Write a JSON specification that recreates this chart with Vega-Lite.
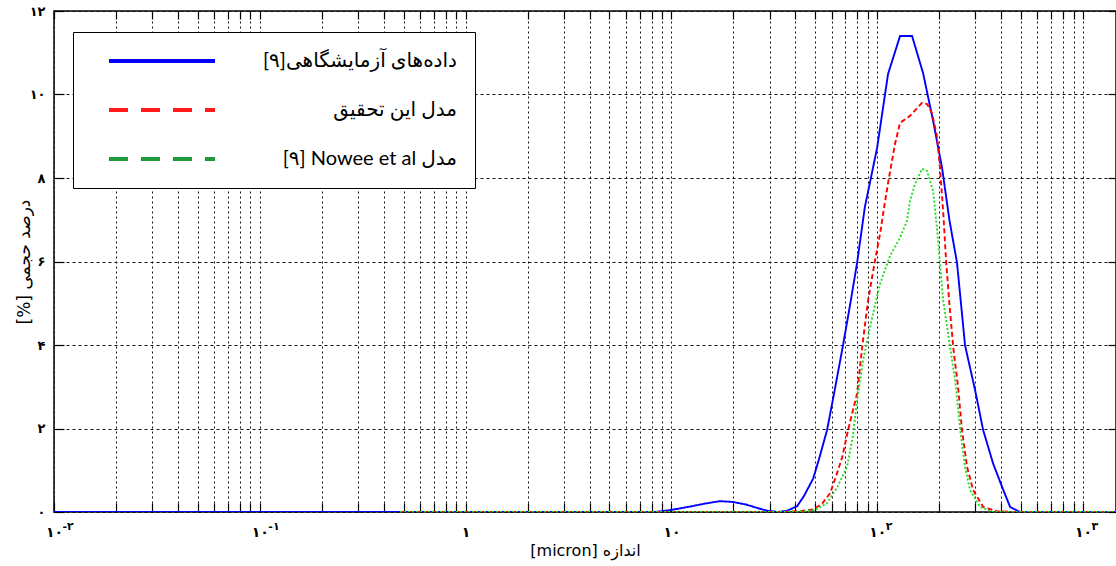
{
  "$schema": "https://vega.github.io/schema/vega-lite/v6.json",
  "width": 1062,
  "height": 501,
  "autosize": {"type": "none"},
  "padding": {"left": 54, "top": 11, "right": 0, "bottom": 54},
  "background": "white",
  "config": {"view": {"stroke": "black", "strokeWidth": 1.5}},
  "data": {"values": [
    {"s":"exp","x":0.01,"y":0},{"s":"exp","x":7,"y":0},{"s":"exp","x":8.3,"y":0},{"s":"exp","x":10,"y":0.05},{"s":"exp","x":12.3,"y":0.13},{"s":"exp","x":14.5,"y":0.2},{"s":"exp","x":17.2,"y":0.26},{"s":"exp","x":19.9,"y":0.24},{"s":"exp","x":23,"y":0.18},{"s":"exp","x":26,"y":0.1},{"s":"exp","x":29.2,"y":0.03},{"s":"exp","x":33,"y":0},{"s":"exp","x":36.5,"y":0.03},{"s":"exp","x":40.8,"y":0.14},{"s":"exp","x":44,"y":0.38},{"s":"exp","x":48.8,"y":0.8},{"s":"exp","x":52,"y":1.25},{"s":"exp","x":57,"y":1.96},{"s":"exp","x":62,"y":2.9},{"s":"exp","x":68.2,"y":4.0},{"s":"exp","x":74,"y":5.0},{"s":"exp","x":79.8,"y":5.97},{"s":"exp","x":87,"y":7.3},{"s":"exp","x":99.8,"y":8.72},{"s":"exp","x":112.8,"y":10.49},{"s":"exp","x":129,"y":11.4},{"s":"exp","x":147.6,"y":11.4},{"s":"exp","x":167,"y":10.51},{"s":"exp","x":186.7,"y":9.37},{"s":"exp","x":206.5,"y":8.24},{"s":"exp","x":224,"y":7.0},{"s":"exp","x":244,"y":5.97},{"s":"exp","x":267,"y":3.99},{"s":"exp","x":299,"y":2.91},{"s":"exp","x":327,"y":1.96},{"s":"exp","x":365,"y":1.17},{"s":"exp","x":404,"y":0.6},{"s":"exp","x":442,"y":0.12},{"s":"exp","x":494,"y":0},{"s":"exp","x":1445,"y":0},
    {"s":"model","x":0.48,"y":0},{"s":"model","x":33.7,"y":0},{"s":"model","x":42,"y":0.02},{"s":"model","x":48.8,"y":0.06},{"s":"model","x":54,"y":0.2},{"s":"model","x":59,"y":0.45},{"s":"model","x":63,"y":0.85},{"s":"model","x":67.5,"y":1.31},{"s":"model","x":72.1,"y":1.96},{"s":"model","x":79.8,"y":2.84},{"s":"model","x":84.4,"y":3.94},{"s":"model","x":90.2,"y":5.07},{"s":"model","x":97.5,"y":6.02},{"s":"model","x":103.2,"y":6.67},{"s":"model","x":108,"y":7.3},{"s":"model","x":113,"y":7.9},{"s":"model","x":122,"y":8.82},{"s":"model","x":129,"y":9.32},{"s":"model","x":144.3,"y":9.49},{"s":"model","x":165,"y":9.8},{"s":"model","x":174.6,"y":9.77},{"s":"model","x":184.6,"y":9.55},{"s":"model","x":195,"y":9.0},{"s":"model","x":202,"y":8.2},{"s":"model","x":209,"y":7.2},{"s":"model","x":216,"y":6.0},{"s":"model","x":224,"y":5.0},{"s":"model","x":234,"y":3.94},{"s":"model","x":247,"y":2.99},{"s":"model","x":258,"y":1.96},{"s":"model","x":273,"y":1.08},{"s":"model","x":292,"y":0.53},{"s":"model","x":327,"y":0.12},{"s":"model","x":382,"y":0.02},{"s":"model","x":450,"y":0},{"s":"model","x":1445,"y":0},
    {"s":"nowee","x":0.48,"y":0},{"s":"nowee","x":40,"y":0},{"s":"nowee","x":50,"y":0.05},{"s":"nowee","x":57,"y":0.21},{"s":"nowee","x":64,"y":0.6},{"s":"nowee","x":71.3,"y":1.08},{"s":"nowee","x":76,"y":1.8},{"s":"nowee","x":79.8,"y":2.68},{"s":"nowee","x":85.3,"y":3.63},{"s":"nowee","x":94.4,"y":4.66},{"s":"nowee","x":103.2,"y":5.47},{"s":"nowee","x":115.4,"y":6.14},{"s":"nowee","x":129,"y":6.57},{"s":"nowee","x":139.6,"y":6.98},{"s":"nowee","x":144.3,"y":7.46},{"s":"nowee","x":152.7,"y":7.86},{"s":"nowee","x":165,"y":8.22},{"s":"nowee","x":174.6,"y":8.17},{"s":"nowee","x":186.7,"y":7.69},{"s":"nowee","x":195,"y":6.8},{"s":"nowee","x":209,"y":5.07},{"s":"nowee","x":226,"y":3.94},{"s":"nowee","x":239,"y":3.15},{"s":"nowee","x":253,"y":1.96},{"s":"nowee","x":267,"y":1.08},{"s":"nowee","x":282,"y":0.53},{"s":"nowee","x":316,"y":0.12},{"s":"nowee","x":365,"y":0},{"s":"nowee","x":1445,"y":0}
  ]},
  "resolve": {
    "axis": {"x": "independent", "y": "independent"},
    "scale": {"color": "independent", "strokeDash": "independent"},
    "legend": {"color": "independent", "strokeDash": "independent"}
  },
  "layer": [
    {
      "mark": {"type": "line", "clip": true, "strokeWidth": 1.9},
      "encoding": {
        "x": {
          "field": "x", "type": "quantitative",
          "scale": {"type": "log", "domain": [0.01, 1445], "nice": false},
          "axis": {
            "orient": "bottom",
            "values": [0.01,0.02,0.03,0.04,0.05,0.06,0.07,0.08,0.09,0.1,0.2,0.3,0.4,0.5,0.6,0.7,0.8,0.9,1,2,3,4,5,6,7,8,9,10,20,30,40,50,60,70,80,90,100,200,300,400,500,600,700,800,900,1000],
            "labelExpr": "indexof([0.01,0.1,10,100,1000], datum.value) >= 0 ? '۱۰' : (datum.value == 1 ? '۱' : '')",
            "labelOverlap": false, "labelFlush": false,
            "grid": true, "gridColor": "#111111", "gridDash": [2, 3], "gridWidth": 1,
            "ticks": true, "tickSize": -9, "tickColor": "black", "tickWidth": 1.2,
            "domain": false,
            "labelFont": "DejaVu Sans", "labelFontWeight": "bold", "labelFontSize": 14, "labelColor": "black",
            "labelPadding": 22, "labelBaseline": "top", "labelAlign": "center",
            "title": "[micron] اندازه", "titleFont": "DejaVu Sans", "titleFontSize": 16, "titleFontWeight": "normal", "titleColor": "black", "titlePadding": 3
          }
        },
        "y": {
          "field": "y", "type": "quantitative",
          "scale": {"domain": [0, 12], "nice": false, "zero": false},
          "axis": {
            "orient": "left",
            "values": [0, 2, 4, 6, 8, 10, 12],
            "labelExpr": "['۰','','۲','','۴','','۶','','۸','','۱۰','','۱۲'][datum.value]",
            "grid": true, "gridColor": "#111111", "gridDash": [3, 3], "gridWidth": 1,
            "ticks": true, "tickSize": -10, "tickColor": "black", "tickWidth": 1.2,
            "domain": false,
            "labelFont": "DejaVu Sans", "labelFontWeight": "bold", "labelFontSize": 13, "labelColor": "black", "labelPadding": 19,
            "title": "[%] درصد حجمی", "titleFont": "DejaVu Sans", "titleFontSize": 17, "titleFontWeight": "normal", "titleColor": "black", "titlePadding": -4
          }
        },
        "color": {
          "field": "s", "type": "nominal",
          "scale": {"domain": ["exp", "model", "nowee"], "range": ["#0000ff", "#ff0000", "#22dd22"]},
          "legend": null
        },
        "strokeDash": {
          "field": "s", "type": "nominal",
          "scale": {"domain": ["exp", "model", "nowee"], "range": [[1, 0], [5, 3], [2, 2]]},
          "legend": null
        }
      }
    },
    {
      "mark": {"type": "line", "opacity": 0, "strokeWidth": 4},
      "encoding": {
        "x": {"field": "x", "type": "quantitative", "axis": {
          "orient": "top",
          "values": [0.01,0.02,0.03,0.04,0.05,0.06,0.07,0.08,0.09,0.1,0.2,0.3,0.4,0.5,0.6,0.7,0.8,0.9,1,2,3,4,5,6,7,8,9,10,20,30,40,50,60,70,80,90,100,200,300,400,500,600,700,800,900,1000],
          "labels": false, "grid": false, "domain": false, "tickSize": -8, "tickColor": "black", "tickWidth": 1.2, "title": null
        }},
        "y": {"field": "y", "type": "quantitative", "axis": {
          "orient": "right", "values": [0, 2, 4, 6, 8, 10, 12],
          "labels": false, "grid": false, "domain": false, "tickSize": -8, "tickColor": "black", "tickWidth": 1.2, "title": null
        }},
        "color": {
          "field": "s", "type": "nominal",
          "scale": {"domain": ["exp", "model", "nowee"], "range": ["#0000ff", "#ff1a1a", "#1c9a3c"]},
          "legend": {
            "orient": "none", "legendX": 19, "legendY": 21, "title": null,
            "symbolType": "stroke", "symbolSize": 11236, "symbolStrokeWidth": 4, "symbolOffset": 16, "symbolOpacity": 1,
            "clipHeight": 22,
            "padding": 18, "rowPadding": 27,
            "labelFont": "Lato, DejaVu Sans", "labelFontSize": 20, "labelColor": "black", "labelLimit": 400,
            "labelAlign": "right", "labelOffset": 240,
            "strokeColor": "black", "fillColor": "white",
            "labelExpr": "datum.value == 'exp' ? '[۹]داده‌های آزمایشگاهی' : (datum.value == 'model' ? 'مدل این تحقیق' : '[۹] Nowee et al مدل')"
          }
        },
        "strokeDash": {
          "field": "s", "type": "nominal",
          "scale": {"domain": ["exp", "model", "nowee"], "range": [[1, 0], [19, 13], [19, 13]]},
          "legend": {
            "orient": "none", "legendX": 19, "legendY": 21, "title": null,
            "symbolType": "stroke", "symbolSize": 11236, "symbolStrokeWidth": 4, "symbolOffset": 16, "symbolOpacity": 1,
            "clipHeight": 22,
            "padding": 18, "rowPadding": 27,
            "labelFont": "Lato, DejaVu Sans", "labelFontSize": 20, "labelColor": "black", "labelLimit": 400,
            "labelAlign": "right", "labelOffset": 240,
            "strokeColor": "black", "fillColor": "white",
            "labelExpr": "datum.value == 'exp' ? '[۹]داده‌های آزمایشگاهی' : (datum.value == 'model' ? 'مدل این تحقیق' : '[۹] Nowee et al مدل')"
          }
        }
      }
    },
    {
      "mark": {"type": "point", "opacity": 0, "size": 0},
      "encoding": {
        "x": {"field": "x", "type": "quantitative", "axis": {
          "orient": "bottom", "values": [0.01, 0.1, 100, 1000],
          "labelExpr": "datum.value == 0.01 ? '-۲' : (datum.value == 0.1 ? '-۱' : (datum.value == 100 ? '۲' : '۳'))",
          "ticks": false, "grid": false, "domain": false,
          "labelAlign": "left", "labelOffset": 8, "labelPadding": 8, "labelBaseline": "top",
          "labelFont": "DejaVu Sans", "labelFontWeight": "bold", "labelFontSize": 11, "labelColor": "black",
          "labelFlush": false, "labelOverlap": false, "title": null
        }},
        "y": {"field": "y", "type": "quantitative", "axis": null}
      }
    }
  ]
}
